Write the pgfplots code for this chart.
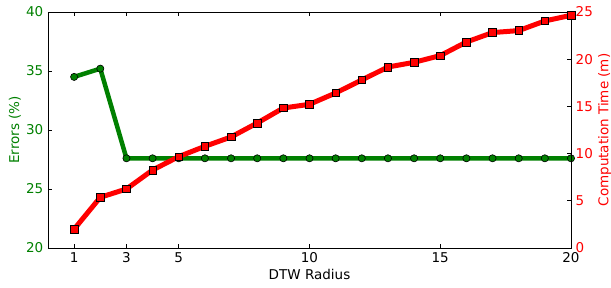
\documentclass[border=0pt]{standalone}
\usepackage{pgfplots}
\pgfplotsset{compat=1.18}
\usepackage{fontspec}
\setmainfont{DejaVu Sans}
\definecolor{mgreen}{rgb}{0,0.5,0}
\definecolor{mred}{rgb}{1,0,0}
\begin{document}
\fontsize{13.5}{16}\selectfont
\begin{tikzpicture}
\pgfplotsset{every axis/.append style={font=\fontsize{13.5}{16}\selectfont},
  /pgf/number format/assume math mode=true}
\begin{axis}[name=main,
  scale only axis, width=523pt, height=236pt,
  xmin=0, xmax=20, ymin=20, ymax=40,
  xtick={1,3,5,10,15,20}, ytick={20,25,30,35,40},
  tick align=inside, major tick length=4pt,
  xtick pos=both, ytick pos=left,
  xlabel={DTW Radius}, ylabel={Errors (\%)},
  ylabel style={text=mgreen}, yticklabel style={text=mgreen},
  xlabel style={yshift=3pt}, ylabel style={yshift=-4pt},
  axis line style={black, line width=0.8pt},
  tick style={black, line width=0.8pt},
  ]
\addplot[mgreen, line width=4.5pt, mark=*, mark size=3.6pt,
  mark options={fill=mgreen, draw=black, line width=0.6pt}]
  coordinates {(1,34.5)(2,35.2)(3,27.6)(4,27.6)(5,27.6)(6,27.6)(7,27.6)(8,27.6)(9,27.6)(10,27.6)
  (11,27.6)(12,27.6)(13,27.6)(14,27.6)(15,27.6)(16,27.6)(17,27.6)(18,27.6)(19,27.6)(20,27.6)};
\end{axis}
\begin{axis}[
  scale only axis, width=523pt, height=236pt,
  xmin=0, xmax=20, ymin=0, ymax=25,
  axis x line=none, axis y line*=right,
  ytick={0,5,10,15,20,25},
  tick align=inside, major tick length=4pt,
  ylabel={Computation Time (m)},
  ylabel style={text=mred, yshift=4pt}, yticklabel style={text=mred},
  axis line style={black, line width=0.8pt},
  tick style={black, line width=0.8pt},
  clip=false,
  ]
\addplot[mred, line width=5pt, mark=square*, mark size=3.8pt,
  mark options={fill=mred, draw=black, line width=0.6pt}]
  coordinates {(1,2.0)(2,5.37)(3,6.25)(4,8.26)(5,9.68)(6,10.77)(7,11.76)(8,13.24)(9,14.83)(10,15.22)
  (11,16.42)(12,17.8)(13,19.17)(14,19.67)(15,20.38)(16,21.82)(17,22.82)(18,23.03)(19,24.05)(20,24.65)};
\end{axis}
\pgfresetboundingbox
\path[use as bounding box] ([xshift=-48pt,yshift=-40pt]main.south west) rectangle ([xshift=40pt,yshift=12pt]main.north east);
\end{tikzpicture}
\end{document}
